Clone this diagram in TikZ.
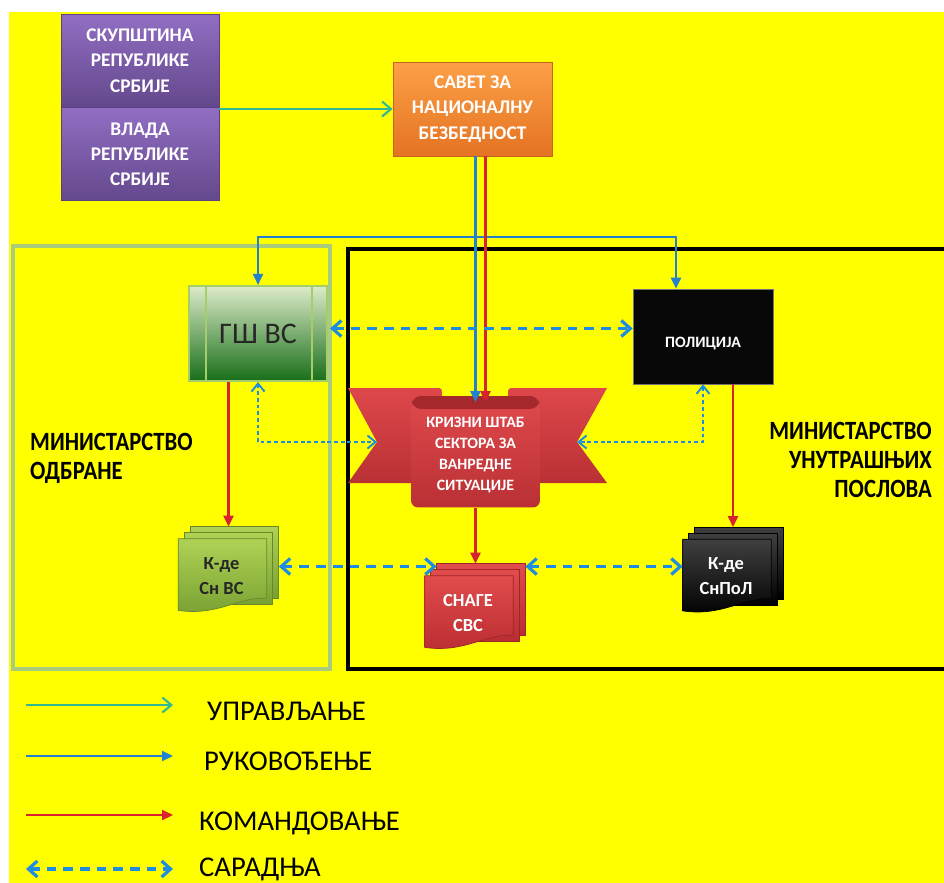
\documentclass[tikz,border=0pt]{standalone}
\usepackage{fontspec}
\setmainfont{Carlito}
\newfontfamily\narrowfont[FakeStretch=0.86]{Carlito}
\usetikzlibrary{
    arrows.meta,
    positioning,
    calc
}

\definecolor{bgYellow}{RGB}{255,255,0}
\definecolor{parlTop}{RGB}{145,110,195}
\definecolor{parlBot}{RGB}{100,72,140}
\definecolor{parlEdge}{RGB}{90,65,130}
\definecolor{orangeTop}{RGB}{252,160,70}
\definecolor{orangeBot}{RGB}{228,115,35}
\definecolor{orangeEdge}{RGB}{200,100,30}
\definecolor{gsTop}{RGB}{220,235,200}
\definecolor{gsBot}{RGB}{25,110,25}
\definecolor{gsEdge}{RGB}{165,205,105}
\definecolor{crisisTop}{RGB}{222,72,75}
\definecolor{crisisBot}{RGB}{185,48,52}
\definecolor{crisisDark}{RGB}{165,40,45}
\definecolor{kdvTop}{RGB}{175,210,85}
\definecolor{kdvBot}{RGB}{120,160,50}
\definecolor{svcTop}{RGB}{225,75,75}
\definecolor{svcBot}{RGB}{185,45,50}
\definecolor{modEdge}{RGB}{170,205,125}
\definecolor{ctrlTeal}{RGB}{50,185,145}
\definecolor{leadBlue}{RGB}{35,130,205}
\definecolor{cmdRed}{RGB}{215,35,45}
\definecolor{coopBlue}{RGB}{30,140,225}

% stacked documents drawn round an empty node
\newcommand{\multidoc}[3]{%
  \shade[top color=#2, bottom color=#3, draw=#3!85!black, line width=0.4pt]
    ($(#1.north west)+(12,0)$) rectangle ($(#1.south east)+(0,-12)$);
  \shade[top color=#2, bottom color=#3, draw=#3!85!black, line width=0.4pt]
    ($(#1.north west)+(6,6)$) rectangle ($(#1.south east)+(-6,-6)$);
  \shade[top color=#2, bottom color=#3, draw=#3!85!black, line width=0.4pt]
    ($(#1.north west)+(0,12)$) -- ($(#1.north east)+(-12,12)$)
    -- ($(#1.south east)+(-12,-12)$)
    .. controls ($(#1.south east)+(-40,-14)$) and ($(#1.south west)+(40,6)$) ..
    (#1.south west) -- cycle;
}

\begin{document}
\begin{tikzpicture}[
  x=0.02cm, y=-0.02cm,
  >=Latex,
  box/.style     = {rectangle, align=center, inner sep=0pt, text=white,
                    font=\bfseries\fontsize{11}{14.4}\selectfont},
  parl/.style    = {box, draw=parlEdge, top color=parlTop, bottom color=parlBot,
                    minimum width=3.16cm, minimum height=1.86cm},
  council/.style = {box, draw=orangeEdge, top color=orangeTop, bottom color=orangeBot,
                    minimum width=3.18cm, minimum height=1.88cm},
  gstaff/.style  = {rectangle, draw=gsEdge, line width=1.2pt, inner sep=0pt,
                    top color=gsTop, bottom color=gsBot, text=black!85,
                    minimum width=2.76cm, minimum height=1.9cm,
                    font=\fontsize{17}{20}\selectfont},
  police/.style  = {box, draw=black!55, fill=black!97,
                    minimum width=2.8cm, minimum height=1.9cm,
                    text height=13pt, text depth=0pt,
                    font=\bfseries\fontsize{9}{11}\selectfont},
  crisis/.style  = {box, rounded corners=4pt, top color=crisisTop, bottom color=crisisBot,
                    minimum width=2.58cm, minimum height=2.1cm,
                    font=\bfseries\fontsize{9}{12}\selectfont},
  docbox/.style  = {rectangle, inner sep=0pt, minimum width=2cm, minimum height=1.66cm},
  doctext/.style = {align=center, font=\bfseries\fontsize{10.5}{14.2}\selectfont},
  ministry/.style = {font=\narrowfont\bfseries\fontsize{15}{16.5}\selectfont},
  legend/.style  = {anchor=west, font=\fontsize{16.3}{19}\selectfont},
  ctrl/.style    = {draw=ctrlTeal, line width=1.2pt, -{Straight Barb[length=1.8mm,width=3mm]}},
  lead/.style    = {draw=leadBlue, line width=1.2pt, -{Triangle[length=2.2mm,width=2mm]}},
  cmd/.style     = {draw=cmdRed, line width=1.2pt, -{Triangle[length=2.2mm,width=2mm]}},
  coop/.style    = {draw=coopBlue, line width=1.8pt, dash pattern=on 5.5pt off 4pt,
                    {Straight Barb[length=1.8mm,width=3.2mm]}-{Straight Barb[length=1.8mm,width=3.2mm]}},
  coopdot/.style = {draw=coopBlue, line width=1.1pt, dash pattern=on 2.2pt off 1.6pt,
                    {Straight Barb[length=1.6mm,width=2.6mm]}-{Straight Barb[length=1.6mm,width=2.6mm]}}
]
\useasboundingbox (0,0) rectangle (944,883);
\fill[white] (0,0) rectangle (944,883);
\fill[bgYellow] (9,12) rectangle (944,883);

% Ministries
\draw[modEdge, line width=2.5pt] (13,246) rectangle (330,669);
\draw[black, line width=2.5pt] (950,249) -- (348,249) -- (348,669) -- (950,669);
\node[ministry, anchor=west, align=left] (modlbl) at (24,458) {МИНИСТАРСТВО\\ОДБРАНЕ};
\node[ministry, anchor=east, align=right] (muplbl) at (938,460) {МИНИСТАРСТВО\\УНУТРАШЊИХ\\ПОСЛОВА};

% Nodes
\node[parl] (skup) at (140,60.5) {СКУПШТИНА\\РЕПУБЛИКЕ\\СРБИЈЕ};
\node[parl, below=0pt of skup] (vlada) {ВЛАДА\\РЕПУБЛИКЕ\\СРБИЈЕ};
\node[council] (sav) at (472.5,109) {САВЕТ ЗА\\НАЦИОНАЛНУ\\БЕЗБЕДНОСТ};

\node[gstaff] (gsh) at (258,333.5) {ГШ ВС};
\draw[gsEdge, line width=1.2pt] ($(gsh.north west)+(18,0)$) -- ($(gsh.south west)+(18,0)$)
                                ($(gsh.north east)+(-16,0)$) -- ($(gsh.south east)+(-16,0)$);
\node[police] (pol) at (703,336.5) {ПОЛИЦИЈА};

% Crisis staff ribbon
\coordinate (notchL) at (377,442);
\coordinate (notchR) at (577,442);
\shade[top color=crisisTop, bottom color=crisisBot]
  (348,388) -- (436,388) .. controls (442,388) .. (442,396) -- (508,396)
  .. controls (508,388) .. (514,388) -- (607,388) -- (notchR) -- (607,483)
  -- (348,483) -- (notchL) -- cycle;
\node[crisis] (ksh) at (475.5,455) {КРИЗНИ ШТАБ\\СЕКТОРА ЗА\\ВАНРЕДНЕ\\СИТУАЦИЈЕ};
\fill[crisisDark, rounded corners=5pt] (412,396) rectangle (539,409);

% Units
\node[docbox] (kdv) at (228.5,568.5) {};
\node[docbox] (svc) at (475,605.5) {};
\node[docbox] (kdp) at (733,569) {};
\multidoc{kdv}{kdvTop}{kdvBot}
\multidoc{svc}{svcTop}{svcBot}
\multidoc{kdp}{black!75}{black}
\node[doctext, text=black!85] (kdvt) at ($(kdv.center)+(-7,7.5)$) {К-де\\Сн ВС};
\node[doctext, text=white] (svct) at ($(svc.center)+(-7,7.5)$) {СНАГЕ\\СВС};
\node[doctext, text=white] (kdpt) at ($(kdp.center)+(-7,7.5)$) {К-де\\СнПоЛ};

% Control
\draw[ctrl] (sav.west -| skup.east) -- (sav.west);

% Leading
\coordinate (fork) at (476,237);
\draw[lead] (sav.south -| ksh.north) -- (ksh.north);
\draw[lead] (fork) -| (gsh.north);
\draw[lead] (fork) -| ($(pol.north)+(-27,0)$);

% Command
\draw[cmd] ($(sav.south -| ksh.north)+(10,0)$) -- ($(ksh.north)+(10,0)$);
\draw[cmd] (gsh.south -| kdv.north) -- (kdv.north);
\draw[cmd] (pol.south -| kdp.north) -- (kdp.north);
\draw[cmd] (ksh.south) -- (ksh.south |- svc.north);

% Cooperation
\draw[coop] ($(gsh.east)+(2,-5)$) coordinate (cg) -- (cg -| pol.west);
\draw[coopdot] (gsh.south) |- (notchL);
\draw[coopdot] (pol.south) |- (notchR);
\draw[coop] ($(kdv.east)+(0,-2)$) coordinate (ck) -- ($(ck -| svc.west)+(12,0)$);
\draw[coop] (ck -| svc.east) -- (ck -| kdp.west);

% Legend
\coordinate (l1a) at (26,705);  \coordinate (l1b) at (173,705);
\coordinate (l2a) at (26,756);  \coordinate (l2b) at (173,756);
\coordinate (l3a) at (26,815);  \coordinate (l3b) at (173,815);
\coordinate (l4a) at (26,869);  \coordinate (l4b) at (173,869);
\draw[ctrl] (l1a) -- (l1b);
\draw[lead] (l2a) -- (l2b);
\draw[cmd] (l3a) -- (l3b);
\draw[coop] (l4a) -- (l4b);
\node[legend] (leg1) at (201,711) {УПРАВЉАЊЕ};
\node[legend] (leg2) at (198,761) {РУКОВОЂЕЊЕ};
\node[legend] (leg3) at (193,823) {КОМАНДОВАЊЕ};
\node[legend] (leg4) at (193,869) {САРАДЊА};

\end{tikzpicture}
\end{document}
